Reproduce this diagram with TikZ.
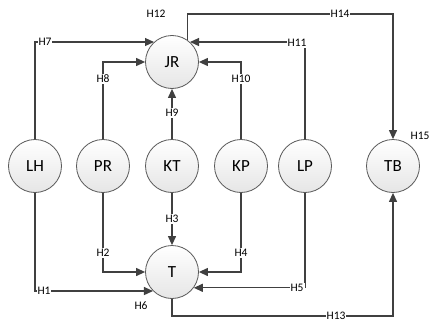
\documentclass[tikz,border=0pt]{standalone}
\usepackage{fontspec}
\setmainfont{Carlito}
\usetikzlibrary{arrows.meta}
\begin{document}
\begin{tikzpicture}[x=1pt,y=-1pt,line width=1.2pt,
  state/.style={circle,draw=black!65,line width=0.8pt,top color=white,bottom color=black!10,
    minimum size=53pt,inner sep=0pt,font=\fontsize{17}{17}\selectfont},
  lab/.style={fill=white,inner sep=1pt,font=\fontsize{11.5}{11.5}\selectfont},
  flow/.style={draw=black!75,-{Triangle[length=9pt,width=8pt]}}]
 \useasboundingbox (0,0) rectangle (431,324);
 \node[state] (JR) at (172,62) {JR};
 \node[state] (T) at (172,272) {T};
 \node[state] (LH) at (35,166) {LH};
 \node[state] (PR) at (103,166) {PR};
 \node[state] (KT) at (172,166) {KT};
 \node[state] (KP) at (241,166) {KP};
 \node[state] (LP) at (305,166) {LP};
 \node[state] (TB) at (393,166) {TB};
 \coordinate (c14) at (340,14); \coordinate (c13) at (336,316);
 % into JR
 \draw[flow] (LH.north) |- (JR.132);
 \draw[flow] (PR.north) |- (JR.west);
 \draw[flow] (KT) -- (JR);
 \draw[flow] (KP.north) |- (JR.east);
 \draw[flow] (LP.north) |- (JR.48);
 % into T
 \draw[flow] (LH.south) |- (T.225);
 \draw[flow] (PR.south) |- (T.west);
 \draw[flow] (KT) -- (T);
 \draw[flow] (KP.south) |- (T.east);
 \draw[flow] (LP.south) |- (T.-36);
 % into TB
 \draw[flow] (JR.54) |- (c14) -| (TB.north);
 \draw[flow] (T.south) |- (c13) -| (TB.south);
 \node[lab] (h1) at (44,291) {H1};
 \node[lab] (h2) at (103,253) {H2};
 \node[lab] (h3) at (172,219) {H3};
 \node[lab] (h4) at (241,253) {H4};
 \node[lab] (h5) at (297,288) {H5};
 \node[lab] (h6) at (141,306) {H6};
 \node[lab] (h7) at (45,42) {H7};
 \node[lab] (h8) at (103,79) {H8};
 \node[lab] (h9) at (172,113) {H9};
 \node[lab] (h10) at (241,79) {H10};
 \node[lab] (h11) at (297,43) {H11};
 \node[lab] (h12) at (156,14) {H12};
 \node[lab] (h13) at (c13) {H13};
 \node[lab] (h14) at (c14) {H14};
 \node[lab,fill=none] (h15) at (420,136) {H15};
\end{tikzpicture}
\end{document}
